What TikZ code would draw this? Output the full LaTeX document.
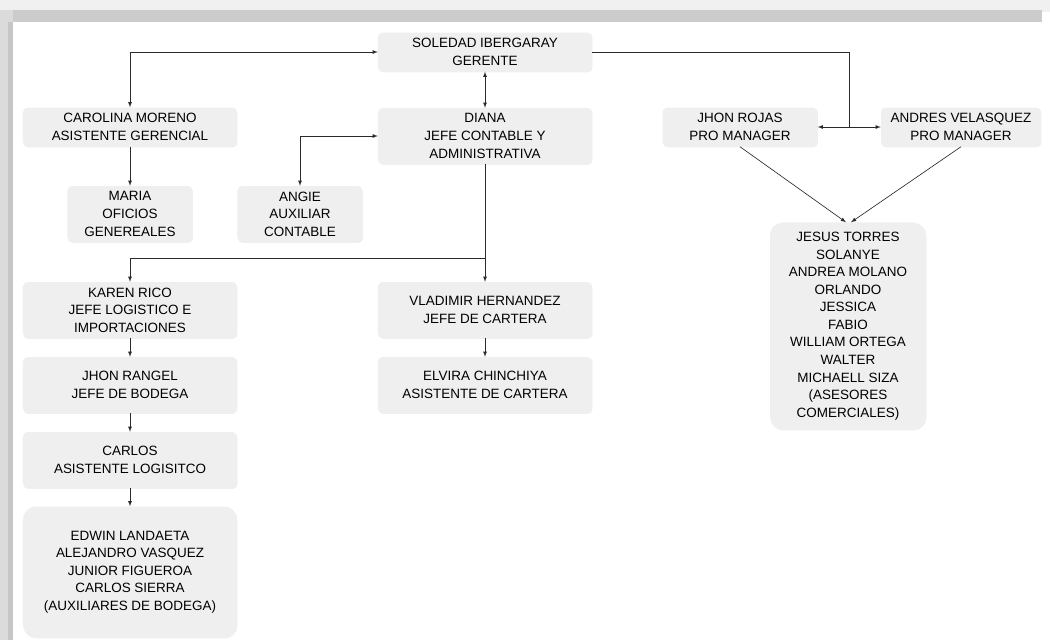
\documentclass[tikz,border=0pt]{standalone}
\usepackage{fontspec}
\setmainfont{Liberation Sans}
\usetikzlibrary{shadows}
\definecolor{boxgray}{HTML}{EFEFEF}
\definecolor{linegray}{HTML}{2A2A2A}
\begin{document}
\begin{tikzpicture}[x=0.03cm, y=-0.03cm]
      \tikzset{puesto/.style={fill=boxgray, rounded corners=4pt, align=center, inner sep=0pt,
               font=\fontsize{11.5}{15}\selectfont, text=black,
               drop shadow={shadow xshift=0.4pt, shadow yshift=-0.8pt, opacity=0.12}},
               ancho/.style={puesto, minimum width=6.42cm},
               grupo/.style={puesto, rounded corners=11pt},
               linea/.style={draw=linegray, line width=0.55pt, >={latex[scale=1.25]}}}
      \useasboundingbox (0,0) rectangle (1050,640);
%% Frame
      \fill[white] (0,0) rectangle (1050,640);
      \fill[gray!12] (0,0) rectangle (1050,12);
      \fill[gray!40] (10,10) rectangle (1042,22);
      \fill[gray!28] (0,10) rectangle (13,640);
      \fill[gray!45] (8,22) rectangle (13,640);
%% Puestos
	%gerencia
      	\node[ancho, minimum height=1.17cm] (soledad) at (485,52) {SOLEDAD IBERGARAY\\GERENTE};
      	\node[ancho, minimum height=1.17cm] (carolina) at (130,127) {CAROLINA MORENO\\ASISTENTE GERENCIAL};
      	\node[ancho, minimum height=1.68cm] (diana) at (485,136) {DIANA\\JEFE CONTABLE Y\\ADMINISTRATIVA};
      	\node[puesto, minimum width=3.75cm, minimum height=1.68cm] (maria) at (130,214) {MARIA\\OFICIOS\\GENEREALES};
      	\node[puesto, minimum width=3.75cm, minimum height=1.68cm] (angie) at (300,214) {ANGIE\\AUXILIAR\\CONTABLE};
	%logistica y cartera
      	\node[ancho, minimum height=1.68cm] (karen) at (130,310) {KAREN RICO\\JEFE LOGISTICO E\\IMPORTACIONES};
      	\node[ancho, minimum height=1.68cm] (rangel) at (130,385) {JHON RANGEL\\JEFE DE BODEGA};
      	\node[ancho, minimum height=1.68cm] (carlos) at (130,460) {CARLOS\\ASISTENTE LOGISITCO};
      	\node[grupo, minimum width=6.42cm, minimum height=3.93cm] (bodega) at (130,572) {EDWIN LANDAETA\\ALEJANDRO VASQUEZ\\JUNIOR FIGUEROA\\CARLOS SIERRA\\(AUXILIARES DE BODEGA)};
      	\node[ancho, minimum height=1.68cm] (vladimir) at (485,310) {VLADIMIR HERNANDEZ\\JEFE DE CARTERA};
      	\node[ancho, minimum height=1.68cm] (elvira) at (485,385) {ELVIRA CHINCHIYA\\ASISTENTE DE CARTERA};
	%comercial
      	\node[puesto, minimum width=4.65cm, minimum height=1.17cm] (jrojas) at (740,127) {JHON ROJAS\\PRO MANAGER};
      	\node[puesto, minimum width=4.8cm, minimum height=1.17cm] (andres) at (961,127) {ANDRES VELASQUEZ\\PRO MANAGER};
      	\node[grupo, minimum width=4.68cm, minimum height=6.21cm] (asesores) at (848,326) {JESUS TORRES\\SOLANYE\\ANDREA MOLANO\\ORLANDO\\JESSICA\\FABIO\\WILLIAM ORTEGA\\WALTER\\MICHAELL SIZA\\(ASESORES\\COMERCIALES)};
%% Lines
      	\coordinate (split) at (485,258);
      	\coordinate (pm) at (849,127);
	%gerencia
		\draw [linea, <->] (carolina.north) |- (soledad.west);
		\draw [linea, <->] (soledad.south) -- (diana.north);
		\draw [linea, ->] (carolina.south) -- (maria.north);
		\draw [linea, <->] (angie.north) |- (diana.west);
	%logistica y cartera
		\draw [linea] (diana.south) -- (split);
		\draw [linea, ->] (split) -| (karen.north);
		\draw [linea, ->] (split) -- (vladimir.north);
		\draw [linea, ->] (karen.south) -- (rangel.north);
		\draw [linea, ->] (rangel.south) -- (carlos.north);
		\draw [linea, ->] (carlos.south) -- (bodega.north);
		\draw [linea, ->] (vladimir.south) -- (elvira.north);
	%comercial
		\draw [linea] (soledad.east) -| (pm);
		\draw [linea, ->] (pm) -- (jrojas.east);
		\draw [linea, ->] (pm) -- (andres.west);
		\draw [linea, ->] (jrojas.south) -- ([xshift=-0.06cm]asesores.north);
		\draw [linea, ->] (andres.south) -- ([xshift=0.09cm]asesores.north);

	\end{tikzpicture}
\end{document}
